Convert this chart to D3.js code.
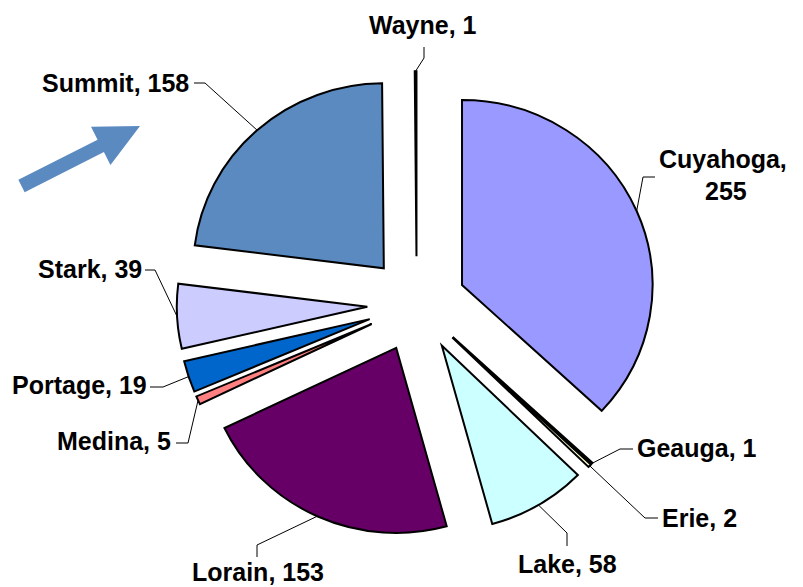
<!DOCTYPE html>
<html>
<head>
<meta charset="utf-8">
<script src="https://cdn.jsdelivr.net/npm/d3@7/dist/d3.min.js"></script>
<style>
  html, body { margin: 0; padding: 0; background: #fff; }
  svg { display: block; }
  .lbl { font-family: Arial, "Liberation Sans", sans-serif; font-weight: bold; font-size: 25px; fill: #000; }
</style>
</head>
<body>
<svg id="chart" width="803" height="587"></svg>
<script>
// data
const counties = ["Cuyahoga", "Geauga", "Erie", "Lake", "Lorain", "Medina", "Portage", "Stark", "Summit", "Wayne"];
const counts = [255, 1, 2, 58, 153, 5, 19, 39, 158, 1];
const sliceColors = ["#9999FF", "#993366", "#FFFFCC", "#CCFFFF", "#660066", "#FF8080", "#0066CC", "#CCCCFF", "#5A8AC0", "#FF00FF"];

// layout
const width = 803, height = 587;
const cx = 416.7, cy = 304.2;
const radius = 185, explode = 48, sx = 1.03;

// where each label sits: text start x, baseline y, elbow of the leader, end of the leader
const labelLayout = [
    { x: [659, 705], y: [168, 200], split: true, elbow: [643, 177], end: [655, 177] },
    { x: [637], y: [457], elbow: [620, 449], end: [633, 449] },
    { x: [662], y: [527], elbow: [645, 518], end: [658, 518] },
    { x: [518], y: [573], elbow: [567, 533], end: [567, 546] },
    { x: [192], y: [581], elbow: [257, 545], end: [257, 557] },
    { x: [57], y: [450], elbow: [188, 443], end: [176, 443] },
    { x: [12], y: [394], elbow: [163, 387], end: [150, 387] },
    { x: [38], y: [278], elbow: [155, 270], end: [145, 270] },
    { x: [42], y: [92], elbow: [205, 83], end: [194, 83] },
    { x: [369], y: [34], elbow: [424, 58], end: [424, 47] }
];

const svg = d3.select("#chart");

const pie = d3.pie().sort(null).value(d => d)(counts);
const arc = d3.arc().innerRadius(0).outerRadius(radius);

const mid = d => (d.startAngle + d.endAngle) / 2;

const g = svg.append("g")
    .attr("transform", `translate(${cx},${cy}) scale(${sx},1)`);

g.selectAll("path")
    .data(pie)
    .join("path")
    .attr("d", arc)
    .attr("transform", d => `translate(${explode * Math.sin(mid(d))},${-explode * Math.cos(mid(d))})`)
    .attr("fill", (d, i) => sliceColors[i])
    .attr("stroke", "#000")
    .attr("stroke-width", 2)
    .attr("stroke-linejoin", "miter")
    .attr("vector-effect", "non-scaling-stroke");

// leader lines, from the middle of each outer arc
function arcPoint(d) {
    const a = mid(d), r = explode + radius;
    return [cx + sx * r * Math.sin(a), cy - r * Math.cos(a)];
}

svg.append("g")
    .selectAll("polyline")
    .data(pie)
    .join("polyline")
    .attr("points", (d, i) => [arcPoint(d), labelLayout[i].elbow, labelLayout[i].end].map(p => p.join(",")).join(" "))
    .attr("fill", "none")
    .attr("stroke", "#000")
    .attr("stroke-width", 1);

// labels
const labels = svg.append("g");
pie.forEach((d, i) => {
    const L = labelLayout[i];
    const lines = L.split ? [counties[i] + ",", String(counts[i])] : [counties[i] + ", " + counts[i]];
    lines.forEach((t, j) => {
        labels.append("text")
            .attr("class", "lbl")
            .attr("x", L.x[j])
            .attr("y", L.y[j])
            .text(t);
    });
});

// block arrow at the left
const arrow = { tail: [21.5, 186], tip: [140, 126], shaft: 14, head: 43, headLen: 44 };
const adx = arrow.tip[0] - arrow.tail[0], ady = arrow.tip[1] - arrow.tail[1];
const alen = Math.hypot(adx, ady);
const aang = Math.atan2(ady, adx) * 180 / Math.PI;
const hs = arrow.shaft / 2, hh = arrow.head / 2, b = alen - arrow.headLen;
svg.append("path")
    .attr("d", d3.line()([[0, -hs], [b, -hs], [b, -hh], [alen, 0], [b, hh], [b, hs], [0, hs]]) + "Z")
    .attr("transform", `translate(${arrow.tail[0]},${arrow.tail[1]}) rotate(${aang})`)
    .attr("fill", "#5A8AC0");
</script>
</body>
</html>
